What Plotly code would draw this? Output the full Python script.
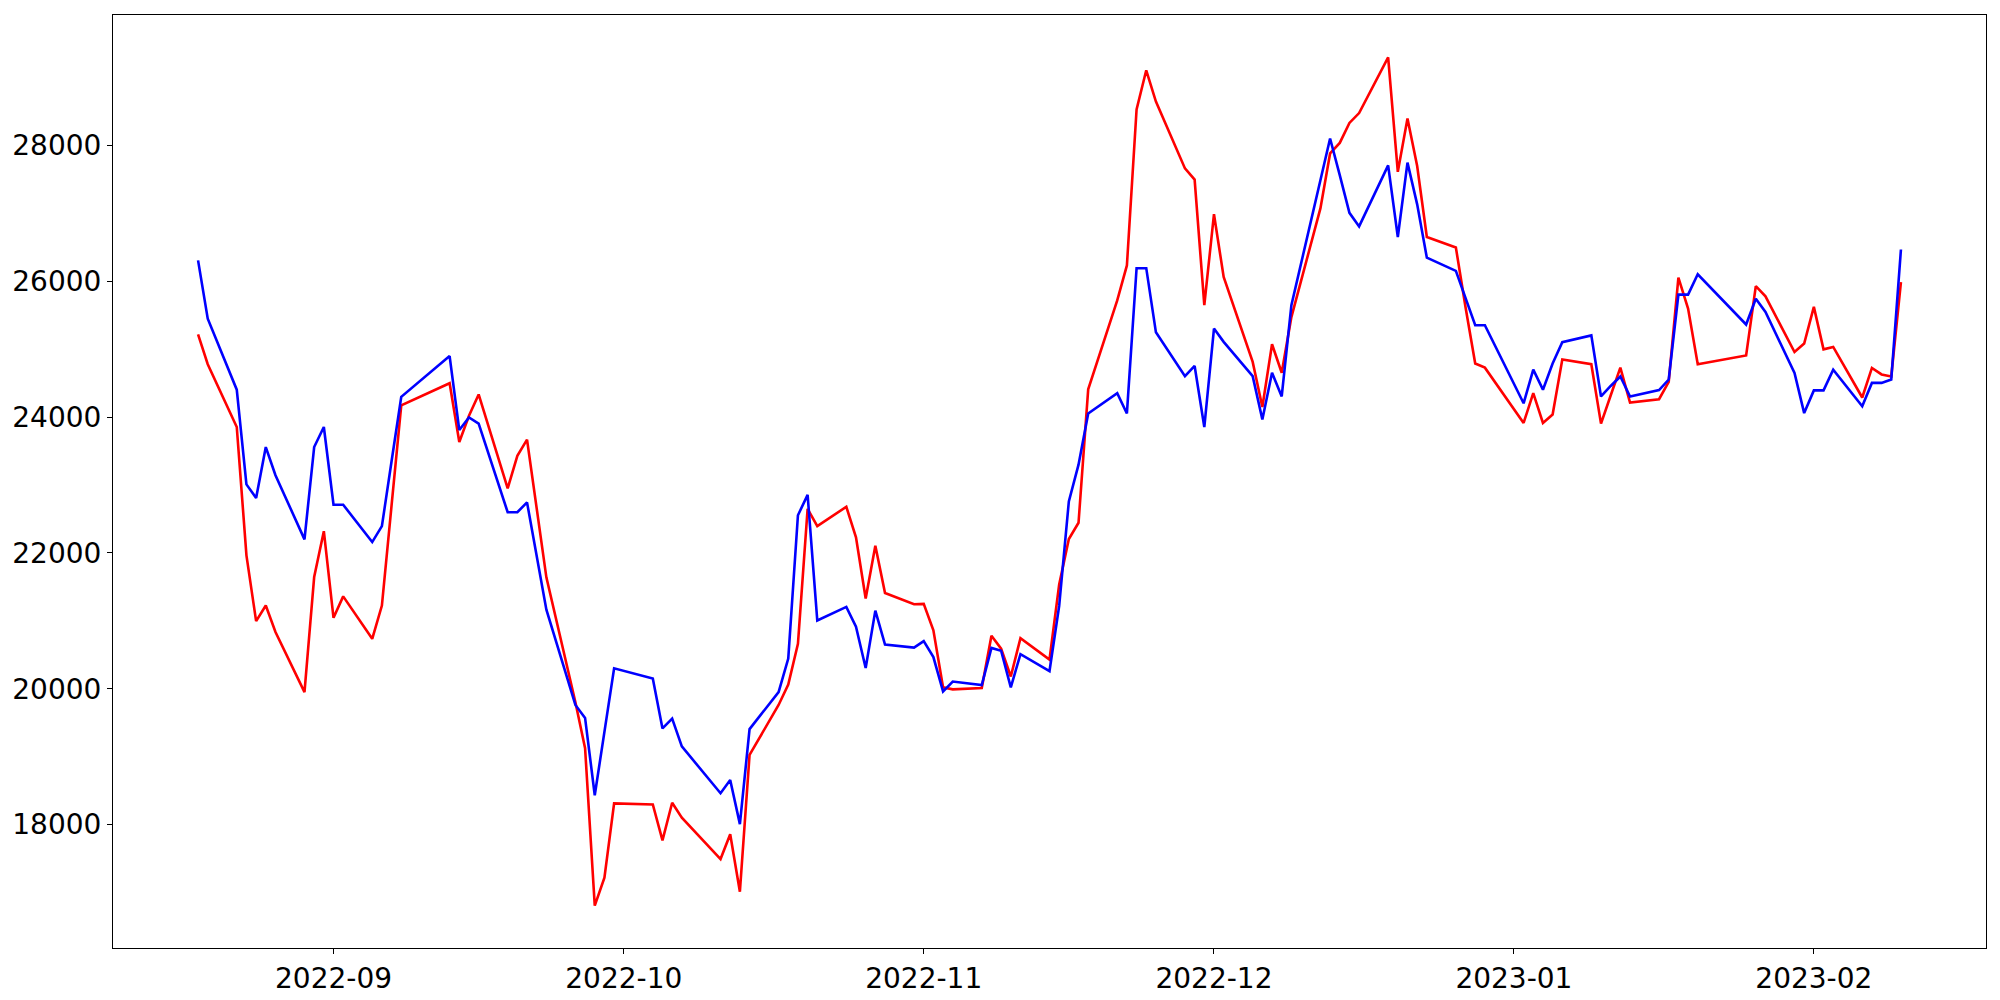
import plotly.graph_objects as go

# trading days (Korean market calendar, Aug 2022 - Feb 2023)
dates = [
    "2022-08-18", "2022-08-19", "2022-08-22", "2022-08-23", "2022-08-24", "2022-08-25", "2022-08-26",
    "2022-08-29", "2022-08-30", "2022-08-31", "2022-09-01", "2022-09-02", "2022-09-05", "2022-09-06",
    "2022-09-07", "2022-09-08", "2022-09-13", "2022-09-14", "2022-09-15", "2022-09-16", "2022-09-19",
    "2022-09-20", "2022-09-21", "2022-09-22", "2022-09-23", "2022-09-26", "2022-09-27", "2022-09-28",
    "2022-09-29", "2022-09-30", "2022-10-04", "2022-10-05", "2022-10-06", "2022-10-07", "2022-10-11",
    "2022-10-12", "2022-10-13", "2022-10-14", "2022-10-17", "2022-10-18", "2022-10-19", "2022-10-20",
    "2022-10-21", "2022-10-24", "2022-10-25", "2022-10-26", "2022-10-27", "2022-10-28", "2022-10-31",
    "2022-11-01", "2022-11-02", "2022-11-03", "2022-11-04", "2022-11-07", "2022-11-08", "2022-11-09",
    "2022-11-10", "2022-11-11", "2022-11-14", "2022-11-15", "2022-11-16", "2022-11-17", "2022-11-18",
    "2022-11-21", "2022-11-22", "2022-11-23", "2022-11-24", "2022-11-25", "2022-11-28", "2022-11-29",
    "2022-11-30", "2022-12-01", "2022-12-02", "2022-12-05", "2022-12-06", "2022-12-07", "2022-12-08",
    "2022-12-09", "2022-12-12", "2022-12-13", "2022-12-14", "2022-12-15", "2022-12-16", "2022-12-19",
    "2022-12-20", "2022-12-21", "2022-12-22", "2022-12-23", "2022-12-26", "2022-12-27", "2022-12-28",
    "2022-12-29", "2023-01-02", "2023-01-03", "2023-01-04", "2023-01-05", "2023-01-06", "2023-01-09",
    "2023-01-10", "2023-01-11", "2023-01-12", "2023-01-13", "2023-01-16", "2023-01-17", "2023-01-18",
    "2023-01-19", "2023-01-20", "2023-01-25", "2023-01-26", "2023-01-27", "2023-01-30", "2023-01-31",
    "2023-02-01", "2023-02-02", "2023-02-03", "2023-02-06", "2023-02-07", "2023-02-08", "2023-02-09",
    "2023-02-10",
]

red_vals = [
    25220, 24780, 23855, 21965, 20995, 21225, 20835,
    19950, 21645, 22320, 21045, 21360, 20735, 21225,
    22700, 24175, 24500, 23635, 24020, 24335, 22950,
    23430, 23670, 22660, 21640, 19800, 19125, 16805,
    17215, 18310, 18295, 17765, 18320, 18100, 17490,
    17855, 17010, 19025, 19760, 20060, 20660, 22650,
    22395, 22680, 22230, 21330, 22105, 21410, 21245,
    21250, 20860, 20020, 19990, 20010, 20780, 20590,
    20180, 20745, 20430, 21535, 22205, 22445, 24410,
    25720, 26235, 28535, 29110, 28650, 27665, 27500,
    25650, 26990, 26065, 24815, 24150, 25075, 24655,
    25475, 27075, 27885, 28040, 28335, 28480, 29300,
    27615, 28400, 27700, 26655, 26500, 25620, 24790,
    24730, 23915, 24355, 23915, 24040, 24850, 24780,
    23905, 24320, 24730, 24215, 24265, 24520, 26055,
    25600, 24780, 24910, 25930, 25780, 24960, 25085,
    25625, 25000, 25035, 24290, 24725, 24630, 24600,
    25990,
]

blue_vals = [
    26310, 25450, 24405, 23010, 22810, 23560, 23145,
    22200, 23560, 23855, 22710, 22710, 22160, 22395,
    23350, 24300, 24900, 23810, 23995, 23905, 22600,
    22600, 22745, 21955, 21165, 19760, 19570, 18430,
    19370, 20300, 20150, 19415, 19560, 19150, 18460,
    18655, 18005, 19405, 19950, 20445, 22555, 22855,
    21005, 21205, 20915, 20305, 21150, 20650, 20605,
    20700, 20465, 19960, 20105, 20055, 20600, 20560,
    20020, 20510, 20260, 21220, 22760, 23300, 24055,
    24355, 24055, 26195, 26195, 25250, 24605, 24755,
    23855, 25305, 25110, 24605, 23965, 24655, 24305,
    25650, 27490, 28105, 27565, 27010, 26810, 27710,
    26655, 27750, 27135, 26350, 26155, 25760, 25355,
    25355, 24205, 24700, 24405, 24790, 25105, 25205,
    24305, 24460, 24600, 24305, 24400, 24555, 25805,
    25805, 26105, 25365, 25745, 25550, 24650, 24060,
    24395, 24395, 24700, 24160, 24505, 24505, 24555,
    26470,
]

y_ticks = [18000, 20000, 22000, 24000, 26000, 28000]

# 5% padding like matplotlib's autoscale
lo = min(red_vals + blue_vals)
hi = max(red_vals + blue_vals)
pad = (hi - lo) * 0.05

fig = go.Figure()
fig.add_trace(go.Scatter(x=dates, y=red_vals, mode='lines', line=dict(color='red', width=2.6)))
fig.add_trace(go.Scatter(x=dates, y=blue_vals, mode='lines', line=dict(color='blue', width=2.6)))

# page body adds an 8px offset, so the figure is a bit smaller than the window
fig.update_layout(
    width=1992, height=992,
    margin=dict(l=105, r=14, t=7, b=52),
    showlegend=False,
    plot_bgcolor='white',
    paper_bgcolor='white',
    font=dict(family='DejaVu Sans', size=28, color='black'),
)

fig.update_xaxes(
    type='date',
    range=['2022-08-09 05:00', '2023-02-18 19:00'],
    tick0='2022-09-01', dtick='M1', tickformat='%Y-%m',
    showgrid=False, zeroline=False, automargin=False,
    showline=True, mirror=True, linecolor='black', linewidth=1.1,
    ticks='outside', ticklen=5, tickwidth=1.1, tickcolor='black',
)

fig.update_yaxes(
    range=[lo - pad, hi + pad],
    tickmode='array', tickvals=y_ticks, ticktext=[str(v) for v in y_ticks],
    showgrid=False, zeroline=False, automargin=False,
    showline=True, mirror=True, linecolor='black', linewidth=1.1,
    ticks='outside', ticklen=5, tickwidth=1.1, tickcolor='black',
)

fig.write_html("out.html")
